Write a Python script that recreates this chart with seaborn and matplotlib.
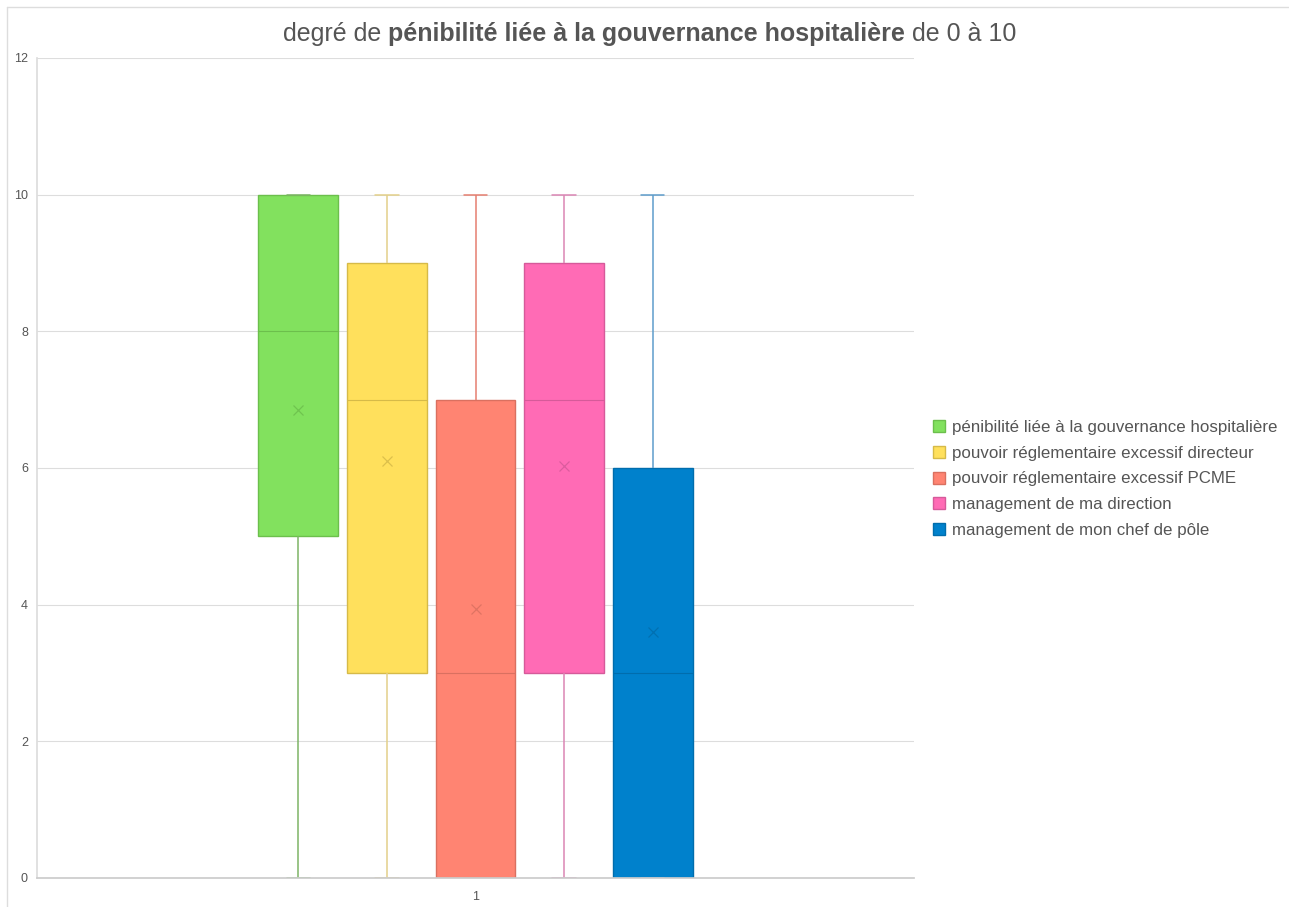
#boxplot of the "pénibilité" scores, one box per question
import numpy as np
import pandas as pd
import seaborn as sns
import matplotlib.pyplot as plt
from matplotlib.patches import Patch
from matplotlib.lines import Line2D

#series names (hue levels) and the single category on the x axis
series = ["pénibilité liée à la gouvernance hospitalière",
          "pouvoir réglementaire excessif directeur",
          "pouvoir réglementaire excessif PCME",
          "management de ma direction",
          "management de mon chef de pôle"]
category = "1"

#five-number summary, plus the mean (x marker)
mins = [0, 0, 0, 0, 0]
q1s = [5, 3, 0, 3, 0]
medians = [8, 7, 3, 7, 3]
q3s = [10, 9, 7, 9, 6]
maxs = [10, 10, 10, 10, 10]
means = [6.85, 6.1, 3.93, 6.03, 3.6]

y_ticks = [0, 2, 4, 6, 8, 10, 12]

#colours
fills = ["#82E15E", "#FFE05C", "#FF8472", "#FF6BB5", "#0081CC"]
edges = ["#6CBF4C", "#D6BA48", "#DA7060", "#D65A9A", "#006DAD"]
whisk = ["#7DB466", "#E3D08A", "#E57F70", "#DB86B4", "#5E9DCB"]
grey = "#555555"

#long table, the 5 summary values per series give back the same quartiles
rows = []
for s, a, b, c, d, e in zip(series, mins, q1s, medians, q3s, maxs):
    for v in (a, b, c, d, e):
        rows.append({"cat": category, "serie": s, "score": v})
df = pd.DataFrame(rows)

sns.set_theme(style="white")
plt.rcParams['font.family'] = ['Liberation Sans', 'DejaVu Sans']

fig = plt.figure(figsize=(12.89, 9.07), dpi=100)
ax = fig.add_axes([37 / 1289, 29 / 907, 877 / 1289, 820 / 907])

sns.boxplot(data=df, x="cat", y="score", hue="serie", hue_order=series,
            palette=fills, saturation=1, whis=(0, 100), width=0.505, gap=0.1,
            linewidth=1, showfliers=False, legend=False, ax=ax)

#colour each box like the original (darker edge, lighter whiskers)
box_x = []
for i, cont in enumerate(ax.containers):
    for box in cont.boxes:
        box.set_edgecolor(edges[i])
        box.set_linewidth(1)
        xs = box.get_path().vertices[:, 0]
        box_x.append((xs.min() + xs.max()) / 2)
    for m in cont.medians:
        m.set_color(edges[i])
        m.set_linewidth(0.8)
    for w in cont.whiskers:
        w.set_color(whisk[i])
        w.set_linewidth(1.1)
    for c in cont.caps:
        c.set_color(whisk[i])
        c.set_linewidth(1.1)
        cx = np.mean(c.get_xdata())
        c.set_xdata([cx - 0.0135, cx + 0.0135])

#means
for i, x in enumerate(box_x):
    ax.plot([x], [means[i]], marker="x", markersize=6.5, mew=0.9,
            color=edges[i], alpha=0.85, zorder=5)

ax.set_ylim(0, 12)
ax.set_xlim(-0.5, 0.5)
ax.set_yticks(y_ticks)
ax.set_xlabel("")
ax.set_ylabel("")
ax.yaxis.grid(True, color="#DDDDDD", linewidth=0.8)
ax.set_axisbelow(True)
for side in ["top", "right"]:
    ax.spines[side].set_visible(False)
ax.spines["left"].set_color("#DDDDDD")
ax.spines["bottom"].set_color("#CCCCCC")
ax.tick_params(axis='both', length=0, labelsize=9, labelcolor=grey)
ax.tick_params(axis='y', pad=6.5)
ax.tick_params(axis='x', pad=9)

#light frame of the whole chart
fig.add_artist(Line2D([7 / 1289, 1], [1 - 7 / 907, 1 - 7 / 907], color="#DDDDDD", lw=1))
fig.add_artist(Line2D([7 / 1289, 7 / 1289], [0, 1 - 7 / 907], color="#DDDDDD", lw=1))

#legend
handles = [Patch(facecolor=f, edgecolor=e, linewidth=1) for f, e in zip(fills, edges)]
fig.legend(handles, series, loc="center left", bbox_to_anchor=(933 / 1289, 1 - 479 / 907),
           frameon=False, fontsize=12.2, labelcolor=grey, handlelength=0.7,
           handleheight=0.7, handletextpad=0.45, labelspacing=0.63,
           borderaxespad=0, borderpad=0)

#title with a bold middle part
parts = [("degré de ", "normal"),
         ("pénibilité liée à la gouvernance hospitalière", "bold"),
         (" de 0 à 10", "normal")]
fig.canvas.draw()
r = fig.canvas.get_renderer()
texts = [fig.text(0, 1 - 34 / 907, p, fontweight=w, fontsize=18, color=grey, va="center")
         for p, w in parts]
widths = [t.get_window_extent(r).width for t in texts]
x0 = 650 - sum(widths) / 2
for t, w in zip(texts, widths):
    t.set_x(x0 / 1289)
    x0 += w

plt.savefig("out.png", dpi=100)
